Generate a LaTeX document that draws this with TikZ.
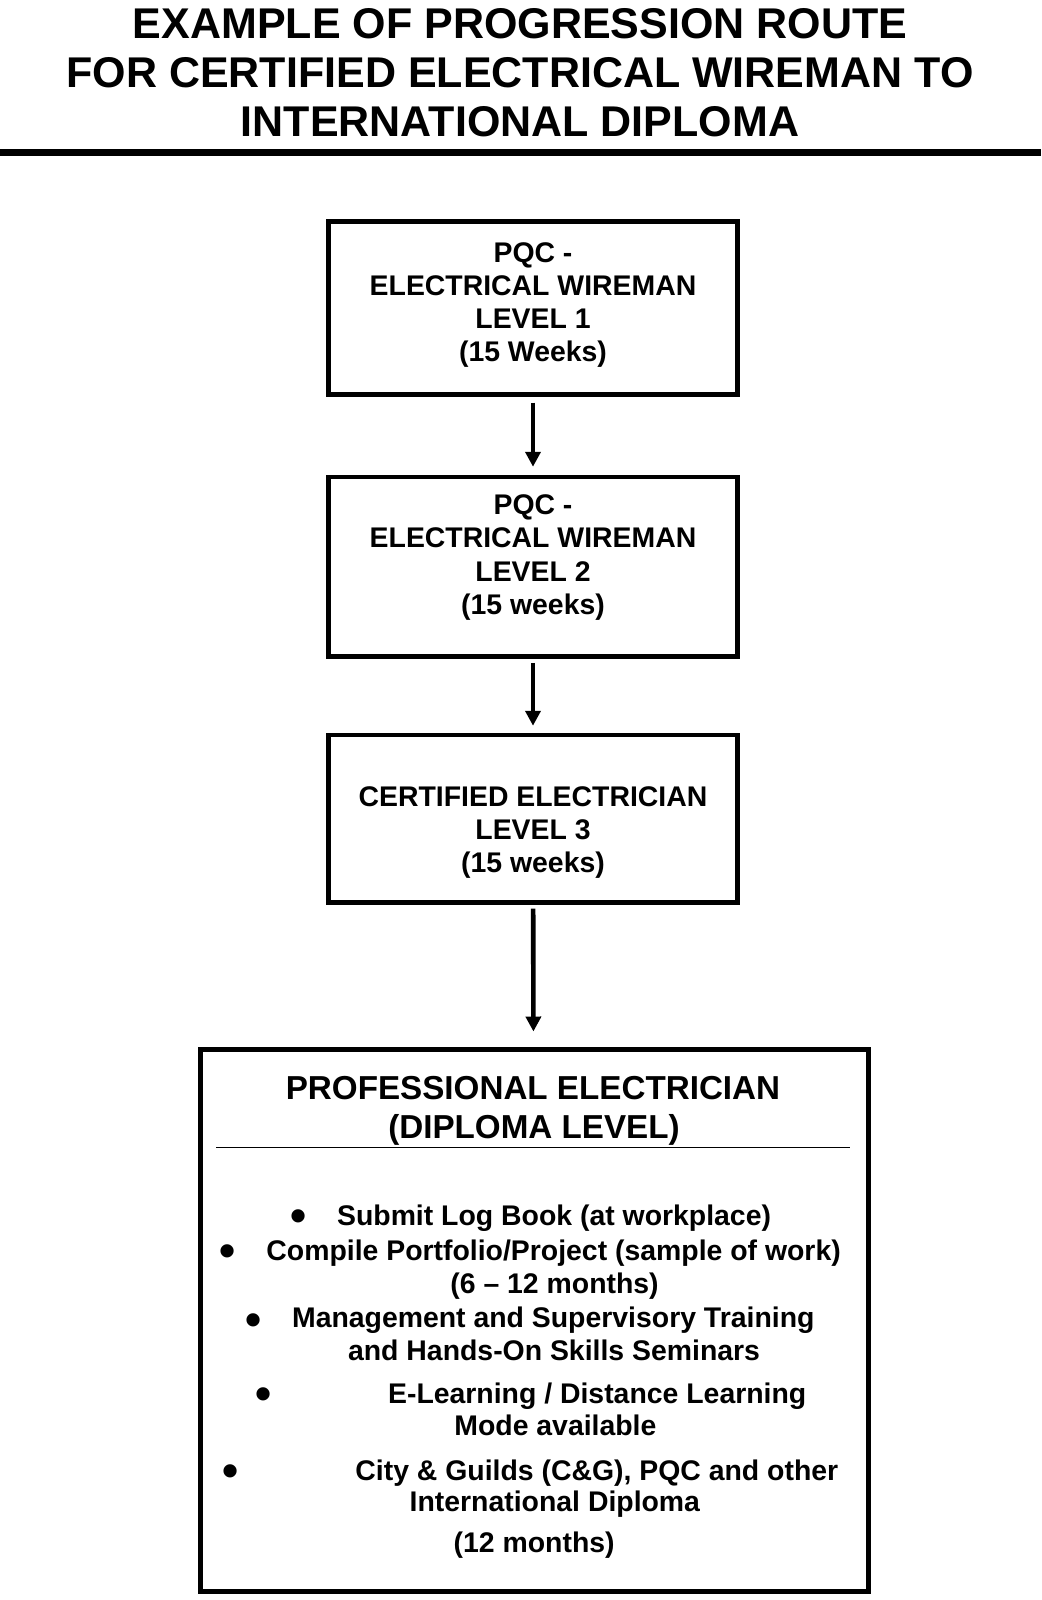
\documentclass[tikz,border=0pt]{standalone}
\usepackage{fontspec}
\setmainfont{Liberation Sans}
\usetikzlibrary{positioning, arrows.meta}

\begin{document}
\begin{tikzpicture}[x=0.5pt, y=-0.5pt, on grid,
    >={Triangle[length=7.5pt, width=7.5pt]},
    headline/.style={anchor=base, inner sep=0pt, font=\fontsize{21.5}{25}\selectfont\bfseries},
    stage/.style={draw, line width=2.3pt, minimum width=204.75pt, inner sep=0pt},
    stagetext/.style={align=center, inner sep=0pt, font=\fontsize{14.2}{16.6}\selectfont\bfseries},
    diploma/.style={anchor=base, inner sep=0pt, font=\fontsize{16.6}{20}\selectfont\bfseries},
    itemline/.style={anchor=base west, inner sep=0pt, font=\fontsize{14.2}{16.6}\selectfont\bfseries},
    itemdot/.style={anchor=base, inner sep=0pt, text height=11pt, text depth=0pt, font=\fontsize{23}{23}\selectfont\bfseries},
    link/.style={line width=2.3pt, shorten <=2pt, shorten >=4pt}]
    \useasboundingbox (0,0) rectangle (1041,1600);

    \node[headline] (title1) at (520,38.3) {EXAMPLE OF PROGRESSION ROUTE};
    \node[headline] (title2) at (520,87.3) {FOR CERTIFIED ELECTRICAL WIREMAN TO};
    \node[headline] (title3) at (520,136.7) {INTERNATIONAL DIPLOMA};
    \coordinate (ruleW) at (0,152.5);
    \coordinate (ruleE) at (1041,152.5);
    \draw[line width=3.3pt] (ruleW) -- (ruleE);

    \node[stage, minimum height=86.4pt] (wire1) at (533,307.9) {};
    \node[stage, minimum height=89.75pt] (wire2) [below=129.45pt of wire1] {};
    \node[stage, minimum height=83.65pt] (cert3) [below=125.95pt of wire2] {};
    \node[stage, line width=2.5pt, minimum width=334pt, minimum height=271pt, xshift=0.5pt] (prof) [below=250.65pt of cert3] {};

    \node[stagetext, yshift=1.45pt] (wire1text) at (wire1) {PQC -\\ELECTRICAL WIREMAN\\LEVEL 1\\(15 Weeks)};
    \node[stagetext, yshift=4.65pt] (wire2text) at (wire2) {PQC -\\ELECTRICAL WIREMAN\\LEVEL 2\\(15 weeks)};
    \node[stagetext, yshift=-7pt] (cert3text) at (cert3) {CERTIFIED ELECTRICIAN\\LEVEL 3\\(15 weeks)};

    \path[->, link]
    (wire1) edge [shorten <=3pt] (wire2)
    (wire2) edge [shorten >=3.5pt] (cert3)
    (cert3) edge [shorten >=7.5pt] (prof);

    \node[diploma] (prof1) at (533,1099.3) {PROFESSIONAL ELECTRICIAN};
    \node[diploma] (prof2) at (534,1138.5) {(DIPLOMA LEVEL)};
    \coordinate (subW) at (216,1147.5);
    \coordinate (subE) at (850,1147.5);
    \draw[line width=0.7pt] (subW) -- (subE);

    \node[itemdot] (dot1) at (299,1231.9) {•};
    \node[itemdot] (dot2) at (227.7,1266.2) {•};
    \node[itemdot] (dot3) at (253.3,1335.2) {•};
    \node[itemdot] (dot4) at (264,1409.2) {•};
    \node[itemdot] (dot5) at (231,1486.2) {•};

    \node[itemline] (logbook) at (336.7,1225) {Submit Log Book (at workplace)};
    \node[itemline] (folio) at (266,1260) {Compile Portfolio/Project (sample of work)};
    \node[itemline] (folio2) at (450,1293) {(6 – 12 months)};
    \node[itemline] (manage) at (291.7,1327) {Management and Supervisory Training};
    \node[itemline] (manage2) at (347.7,1360.5) {and Hands-On Skills Seminars};
    \node[itemline] (elearn) at (387.7,1403) {E-Learning / Distance Learning};
    \node[itemline] (elearn2) at (454,1435) {Mode available};
    \node[itemline] (guilds) at (355,1480) {City \& Guilds (C\&G), PQC and other};
    \node[itemline] (guilds2) at (409.3,1511.5) {International Diploma};
    \node[itemline] (guilds3) at (453.3,1552) {(12 months)};
\end{tikzpicture}
\end{document}
